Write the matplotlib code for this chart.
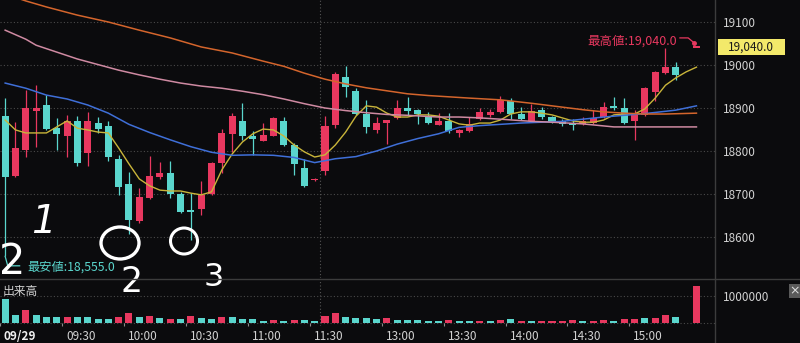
import numpy as np
import matplotlib
matplotlib.use('Agg')
import matplotlib.pyplot as plt
from matplotlib.patches import Rectangle, Ellipse
from matplotlib.transforms import ScaledTranslation

plt.rcParams['font.family'] = ['Noto Sans CJK JP', 'DejaVu Sans']

# ---------------- data (5-minute bars, index = bar number) ----------------
bar_idx = list(range(68))
opens = [18881, 18742, 18802, 18893, 18907, 18853, 18835, 18870, 18795, 18865,
         18858, 18781, 18723, 18637, 18691, 18740, 18749, 18700, 18663, 18665,
         18700, 18772, 18840, 18870, 18835, 18823, 18835, 18870, 18814, 18760,
         18733, 18753, 18860, 18972, 18940, 18886, 18849, 18865, 18877, 18900,
         18895, 18879, 18860, 18870, 18842, 18847, 18874, 18884, 18891, 18916,
         18886, 18870, 18895, 18879, 18870, 18865, 18863, 18865, 18879, 18905,
         18900, 18870, 18884, 18937, 18981, 18995, np.nan, 19040]
highs = [18923, 18867, 18942, 18953, 18930, 18877, 18884, 18881, 18891, 18879,
         18870, 18791, 18751, 18714, 18788, 18774, 18777, 18705, 18702, 18730,
         18774, 18851, 18888, 18912, 18847, 18865, 18879, 18879, 18819, 18781,
         18737, 18881, 18984, 18998, 18947, 18919, 18879, 18872, 18919, 18926,
         18898, 18891, 18888, 18888, 18851, 18879, 18900, 18898, 18928, 18923,
         18902, 18909, 18902, 18881, 18874, 18874, 18879, 18895, 18914, 18926,
         18923, 18895, 18949, 18986, 19040, 19007, np.nan, 19040]
lows = [18555, 18740, 18786, 18809, 18849, 18802, 18786, 18765, 18765, 18842,
        18777, 18698, 18607, 18633, 18688, 18735, 18691, 18656, 18593, 18651,
        18698, 18749, 18798, 18826, 18791, 18823, 18835, 18812, 18744, 18716,
        18731, 18744, 18853, 18926, 18884, 18842, 18842, 18816, 18874, 18884,
        18863, 18863, 18860, 18842, 18833, 18844, 18872, 18879, 18888, 18874,
        18872, 18867, 18874, 18865, 18858, 18849, 18860, 18863, 18877, 18895,
        18863, 18826, 18881, 18916, 18979, 18965, np.nan, 19040]
closes = [18740, 18807, 18900, 18900, 18851, 18840, 18870, 18772, 18870, 18851,
          18786, 18716, 18640, 18693, 18742, 18749, 18700, 18658, 18658, 18698,
          18772, 18842, 18881, 18835, 18828, 18837, 18877, 18814, 18770, 18719,
          18735, 18858, 18979, 18949, 18886, 18856, 18865, 18872, 18900, 18893,
          18886, 18865, 18870, 18847, 18849, 18863, 18891, 18891, 18919, 18886,
          18874, 18893, 18879, 18867, 18863, 18860, 18870, 18877, 18902, 18900,
          18865, 18884, 18947, 18984, 18995, 18977, np.nan, 19040]

# volume in millions, with up/down colouring as shown on the chart
volumes = [0.89, 0.30, 0.48, 0.30, 0.22, 0.22, 0.22, 0.22, 0.22, 0.15,
           0.15, 0.22, 0.37, 0.22, 0.26, 0.19, 0.15, 0.15, 0.26, 0.19,
           0.15, 0.22, 0.22, 0.15, 0.15, 0.08, 0.11, 0.08, 0.11, 0.11,
           0.08, 0.26, 0.37, 0.22, 0.19, 0.19, 0.15, 0.19, 0.11, 0.11,
           0.11, 0.08, 0.08, 0.11, 0.08, 0.08, 0.08, 0.08, 0.11, 0.15,
           0.08, 0.08, 0.08, 0.08, 0.08, 0.11, 0.08, 0.08, 0.11, 0.08,
           0.15, 0.15, 0.19, 0.19, 0.30, 0.22, np.nan, 1.37]
vol_dir = list("dduddduddd" "duudududud" "duddddudud" "duuddddudd"
               "ddduddudud" "uduuuuduud" "uuduud-u")

# moving averages
ma5 = [18872, 18849, 18842, 18842, 18842, 18856, 18870, 18853, 18849, 18844,
       18842, 18807, 18770, 18735, 18719, 18709, 18707, 18707, 18702, 18698,
       18705, 18756, 18793, 18821, 18840, 18851, 18849, 18835, 18814, 18798,
       18786, 18791, 18814, 18844, 18881, 18905, 18902, 18888, 18879, 18879,
       18884, 18884, 18881, 18872, 18863, 18860, 18865, 18865, 18872, 18886,
       18891, 18891, 18888, 18884, 18877, 18870, 18867, 18867, 18872, 18884,
       18886, 18886, 18898, 18923, 18953, 18970, 18984, 18995]
blue_x = [0, 2, 4, 6, 8, 10, 12, 14, 16, 18, 20, 22, 24, 26, 28, 30, 32, 34, 36,
          38, 40, 42, 44, 46, 48, 50, 54, 58, 62, 65, 67]
blue_y = [18958, 18946, 18930, 18921, 18907, 18888, 18862, 18843, 18826, 18810,
          18797, 18790, 18791, 18790, 18785, 18773, 18782, 18787, 18800, 18816,
          18829, 18840, 18855, 18859, 18862, 18865, 18869, 18879, 18887, 18895, 18905]
pink_x = [0, 2, 3, 5, 7, 9, 11, 13, 15, 17, 19, 21, 23, 25, 27, 29, 31, 33, 35,
          37, 39, 42, 44, 46, 48, 51, 53, 56, 59, 63, 67]
pink_y = [19081, 19060, 19046, 19030, 19014, 19001, 18988, 18977, 18967, 18958,
          18951, 18946, 18939, 18931, 18921, 18910, 18900, 18894, 18889, 18885,
          18883, 18879, 18879, 18877, 18874, 18869, 18867, 18863, 18856, 18856, 18856]
orange_x = [0, 2, 4, 7, 10, 13, 16, 19, 22, 25, 27, 29, 31, 33, 35, 37, 39, 41,
            43, 45, 48, 51, 53, 56, 58, 60, 62, 64, 67]
orange_y = [19165, 19149, 19135, 19116, 19100, 19081, 19063, 19042, 19028, 19009,
            18997, 18981, 18967, 18956, 18947, 18940, 18933, 18929, 18926, 18923,
            18919, 18911, 18905, 18896, 18891, 18888, 18886, 18886, 18888]

price_ticks = [18600, 18700, 18800, 18900, 19000, 19100]
time_labels = ['09/29', '09:30', '10:00', '10:30', '11:00', '11:30',
               '13:00', '13:30', '14:00', '14:30', '15:00']
time_label_bars = [0, 6, 12, 18, 24, 30, 37, 43, 49, 55, 61]
session_break_bar = 30.5
low_value = 18555.0
high_value = 19040.0
last_price = 19040.0

# ---------------- styling ----------------
W, H = 800, 343
BG = '#0b0b0d'
RED = '#e8385f'
CYAN = '#5ad6cd'
GRID = '#4a4a4a'
TXT = '#d2d2d2'

fig = plt.figure(figsize=(W / 100, H / 100), dpi=100)
fig.patch.set_facecolor(BG)


def rect(x0, y0, x1, y1):
    return [x0 / W, 1 - y1 / H, (x1 - x0) / W, (y1 - y0) / H]


ax = fig.add_axes(rect(0, 0, 715, 278))
axv = fig.add_axes(rect(0, 279, 715, 326), sharex=ax)
for a in (ax, axv):
    a.set_facecolor(BG)
    for s in a.spines.values():
        s.set_visible(False)

px_per_bar = 10.32
ax.set_xlim(-5 / px_per_bar, 710 / px_per_bar)
p_per_px = 100 / 43.0
ax.set_ylim(19000 - 213 * p_per_px, 19000 + 65 * p_per_px)
axv.set_ylim(-3 / 27.0, 44 / 27.0)

# grid
for p in price_ticks:
    ax.axhline(p, color=GRID, lw=0.8, ls=(0, (1, 2)), zorder=0)
axv.axhline(0, color=GRID, lw=0.8, ls=(0, (1, 2)), zorder=0)
axv.axhline(1.0, color=GRID, lw=0.8, ls=(0, (1, 2)), zorder=0)
for a in (ax, axv):
    a.axvline(session_break_bar, color='#555555', lw=0.8, ls=(0, (1, 2)), zorder=0)

# candles
o = np.array(opens, float); h = np.array(highs, float)
l = np.array(lows, float); c = np.array(closes, float)
x = np.array(bar_idx, float)
valid = ~np.isnan(o)
up = c >= o
cols = np.where(up, RED, CYAN)
min_h = 1.3 * p_per_px
body_lo = np.minimum(o, c)
body_h = np.maximum(np.abs(c - o), min_h)
ax.vlines(x[valid], l[valid], h[valid], colors=cols[valid], lw=0.9, zorder=2)
ax.bar(x[valid], body_h[valid], bottom=body_lo[valid], width=0.68,
       color=cols[valid], edgecolor='none', zorder=2.5)

# moving averages
ax.plot(bar_idx, ma5, color='#c9b53a', lw=1.0, zorder=3)
ax.plot(blue_x, blue_y, color='#3f6fd8', lw=1.1, zorder=3)
ax.plot(pink_x, pink_y, color='#cf8aa2', lw=1.1, zorder=3)
ax.plot(orange_x, orange_y, color='#d4652c', lw=1.1, zorder=3)

# volume
v = np.array(volumes, float)
vcols = np.array([RED if d == 'u' else CYAN for d in vol_dir])
vv = ~np.isnan(v)
axv.bar(x[vv], v[vv], width=0.68, color=vcols[vv], edgecolor='none', zorder=2)

# axis labels
ax.yaxis.tick_right()
ax.set_yticks(price_ticks)
ax.set_yticklabels([str(p) for p in price_ticks])
ax.tick_params(axis='y', length=0, pad=6, labelsize=8.5, colors=TXT)
ax.tick_params(axis='x', which='both', bottom=False, labelbottom=False)
axv.yaxis.tick_right()
axv.set_yticks([1.0])
axv.set_yticklabels(['1000000'])
axv.tick_params(axis='y', length=0, pad=6, labelsize=8.5, colors=TXT)

tick_pos = [b - 0.5 for b in time_label_bars]
axv.set_xticks(tick_pos)
axv.set_xticklabels(time_labels)
axv.tick_params(axis='x', direction='in', length=2.5, width=0.8, color='#8a8a8a',
                pad=3, labelsize=8.5, labelcolor=TXT)
off = ScaledTranslation(4 / 100, 0, fig.dpi_scale_trans)
for i, lab in enumerate(axv.get_xticklabels()):
    lab.set_horizontalalignment('left')
    lab.set_transform(lab.get_transform() + off)
    if i == 0:
        lab.set_fontweight('bold')
        lab.set_color('#f0f0f0')

# panel separators
fig.add_artist(plt.Line2D([715 / W, 715 / W], [0, 1], color='#3c3c3c', lw=1.0))
fig.add_artist(plt.Line2D([0, 1], [1 - 279 / H, 1 - 279 / H], color='#3c3c3c', lw=1.0))

# volume label
fig.text(3 / W, 1 - 291 / H, '出来高', color=TXT, fontsize=8.5, ha='left', va='center')

# low annotation
ax.plot([0, 0.25, 1.4], [low_value, low_value - 22, low_value - 22], color=CYAN, lw=0.9, zorder=4)
ax.text(2.2, low_value - 24, '最安値:{:,.1f}'.format(low_value), color=CYAN,
        fontsize=8.8, ha='left', va='center', zorder=4)

# high annotation
ax.text(65.1, high_value + 16, '最高値:{:,.1f}'.format(high_value), color=RED,
        fontsize=9, ha='right', va='center', zorder=4)
ax.plot([65.4, 66.2, 66.8], [high_value + 23, high_value + 23, high_value + 11],
        color=RED, lw=0.9, zorder=4)
ax.plot([66.8], [high_value + 11], 'o', color=RED, ms=2.5, zorder=4)

# current price box on the axis
fig.add_artist(Rectangle((718 / W, 1 - 55 / H), 67 / W, 16 / H, transform=fig.transFigure,
                         facecolor='#f3e96a', edgecolor='none'))
fig.text(751 / W, 1 - 47 / H, '{:,.1f}'.format(last_price), color='#1a1a1a',
         fontsize=8.5, ha='center', va='center')

# close button
fig.add_artist(Rectangle((789 / W, 1 - 298 / H), 14 / W, 14 / H, transform=fig.transFigure,
                         facecolor='#5a5a5a', edgecolor='none'))
fig.text(795 / W, 1 - 291 / H, '×', color='#e0e0e0', fontsize=9, ha='center', va='center',
         family='DejaVu Sans')

# hand-written overlay
ov = fig.add_axes([0, 0, 1, 1])
ov.set_xlim(0, W); ov.set_ylim(H, 0)
ov.axis('off'); ov.patch.set_alpha(0)
hw = dict(color='white', ha='center', va='center', family='DejaVu Sans')
ov.text(12, 262, '2', fontsize=30, **hw)
ov.text(43, 222, '1', fontsize=28, style='italic', **hw)
ov.add_patch(Ellipse((120, 243), 38, 32, fill=False, ec='white', lw=2.4))
ov.text(132, 282, '2', fontsize=25, **hw)
ov.add_patch(Ellipse((184, 241), 27, 26, fill=False, ec='white', lw=2.2))
ov.text(214, 277, '3', fontsize=23, **hw)

fig.savefig('out.png', dpi=100, facecolor=BG)
